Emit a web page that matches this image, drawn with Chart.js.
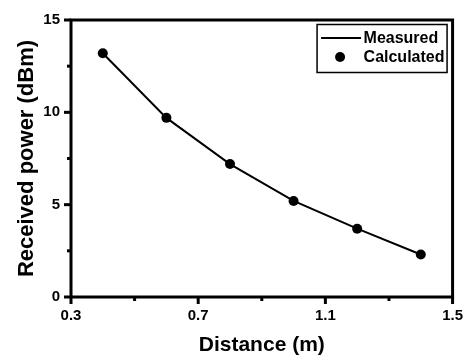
<!DOCTYPE html>
<html><head><meta charset="utf-8">
<script src="https://cdn.jsdelivr.net/npm/chart.js@4"></script>
<style>html,body{margin:0;padding:0;background:#fff}</style>
</head><body><canvas id="c" width="473" height="358"></canvas>
<script>
const distances = [0.4, 0.6, 0.8, 1.0, 1.2, 1.4];
const measured = [13.2, 9.7, 7.2, 5.2, 3.7, 2.3];
const calculated = [13.2, 9.7, 7.2, 5.2, 3.7, 2.3];
const xTicks = [0.3, 0.7, 1.1, 1.5];
const xMinorTicks = [0.5, 0.9, 1.3];
const yTicks = [0, 5, 10, 15];
const yMinorTicks = [2.5, 7.5, 12.5];
const xTitle = 'Distance (m)';
const yTitle = 'Received power (dBm)';

const FONT = '"Liberation Sans", Arial, sans-serif';

const framePlugin = {
  id: 'frame',
  afterDraw(chart) {
    const ctx = chart.ctx;
    const a = chart.chartArea;
    const xs = chart.scales.x, ys = chart.scales.y;
    ctx.save();
    ctx.strokeStyle = '#000';
    ctx.lineWidth = 3;
    ctx.strokeRect(a.left, a.top, a.right - a.left, a.bottom - a.top);
    ctx.lineCap = 'butt';
    xTicks.forEach(v => {
      const p = xs.getPixelForValue(v);
      ctx.beginPath(); ctx.moveTo(p, a.bottom); ctx.lineTo(p, a.bottom + 7); ctx.stroke();
    });
    xMinorTicks.forEach(v => {
      const p = xs.getPixelForValue(v);
      ctx.beginPath(); ctx.moveTo(p, a.bottom); ctx.lineTo(p, a.bottom + 4); ctx.stroke();
    });
    yTicks.forEach(v => {
      const p = ys.getPixelForValue(v);
      ctx.beginPath(); ctx.moveTo(a.left, p); ctx.lineTo(a.left - 7, p); ctx.stroke();
    });
    yMinorTicks.forEach(v => {
      const p = ys.getPixelForValue(v);
      ctx.beginPath(); ctx.moveTo(a.left, p); ctx.lineTo(a.left - 4, p); ctx.stroke();
    });
    // legend
    const bx = a.right - 135.5, by = a.top + 4.5, bw = 130, bh = 48;
    ctx.fillStyle = '#fff';
    ctx.fillRect(bx, by, bw, bh);
    ctx.lineWidth = 1.5;
    ctx.strokeRect(bx, by, bw, bh);
    const ds = chart.data.datasets;
    ctx.lineWidth = 2;
    ctx.beginPath(); ctx.moveTo(bx + 4, by + 13.5); ctx.lineTo(bx + 44, by + 13.5); ctx.stroke();
    ctx.fillStyle = '#000';
    ctx.beginPath(); ctx.arc(bx + 23, by + 32.5, 5, 0, Math.PI * 2); ctx.fill();
    ctx.font = 'bold 16px ' + FONT;
    ctx.textBaseline = 'alphabetic';
    ctx.textAlign = 'left';
    ctx.fillText(ds[0].label, bx + 46.5, by + 18.3);
    ctx.fillText(ds[1].label, bx + 46.5, by + 37.3);
    ctx.restore();
  }
};

new Chart(document.getElementById('c'), {
  type: 'line',
  data: {
    datasets: [
      {
        label: 'Measured',
        data: distances.map((d, i) => ({x: d, y: measured[i]})),
        borderColor: '#000',
        borderWidth: 2,
        pointRadius: 0,
        tension: 0,
        fill: false
      },
      {
        label: 'Calculated',
        data: distances.map((d, i) => ({x: d, y: calculated[i]})),
        showLine: false,
        pointRadius: 5,
        pointBackgroundColor: '#000',
        pointBorderColor: '#000',
        pointBorderWidth: 0,
        borderColor: '#000'
      }
    ]
  },
  options: {
    responsive: false,
    animation: false,
    devicePixelRatio: 1,
    layout: { padding: { top: 14, right: 16, left: 0, bottom: 0 } },
    plugins: { legend: { display: false }, tooltip: { enabled: false } },
    scales: {
      x: {
        type: 'linear',
        min: 0.3, max: 1.5,
        afterBuildTicks: s => { s.ticks = xTicks.map(v => ({value: v})); },
        afterFit: s => { s.height = 61; },
        grid: { display: false, drawTicks: false },
        border: { display: false },
        ticks: {
          padding: 10,
          color: '#000',
          font: { family: FONT, size: 15, weight: 'bold' },
          callback: v => v.toFixed(1)
        },
        title: {
          display: true, text: xTitle, color: '#000',
          font: { family: FONT, size: 21, weight: 'bold' },
          padding: { top: 0, bottom: 0 }
        }
      },
      y: {
        type: 'linear',
        min: 0, max: 15,
        afterBuildTicks: s => { s.ticks = yTicks.map(v => ({value: v})); },
        afterFit: s => { s.width = 71; },
        grid: { display: false, drawTicks: false },
        border: { display: false },
        ticks: {
          padding: 11,
          color: '#000',
          font: { family: FONT, size: 15, weight: 'bold' },
          callback: v => String(v)
        },
        title: {
          display: true, text: yTitle, color: '#000',
          font: { family: FONT, size: 22, weight: 'bold' },
          padding: { top: 14, bottom: 0 }
        }
      }
    }
  },
  plugins: [framePlugin]
});
</script></body></html>
